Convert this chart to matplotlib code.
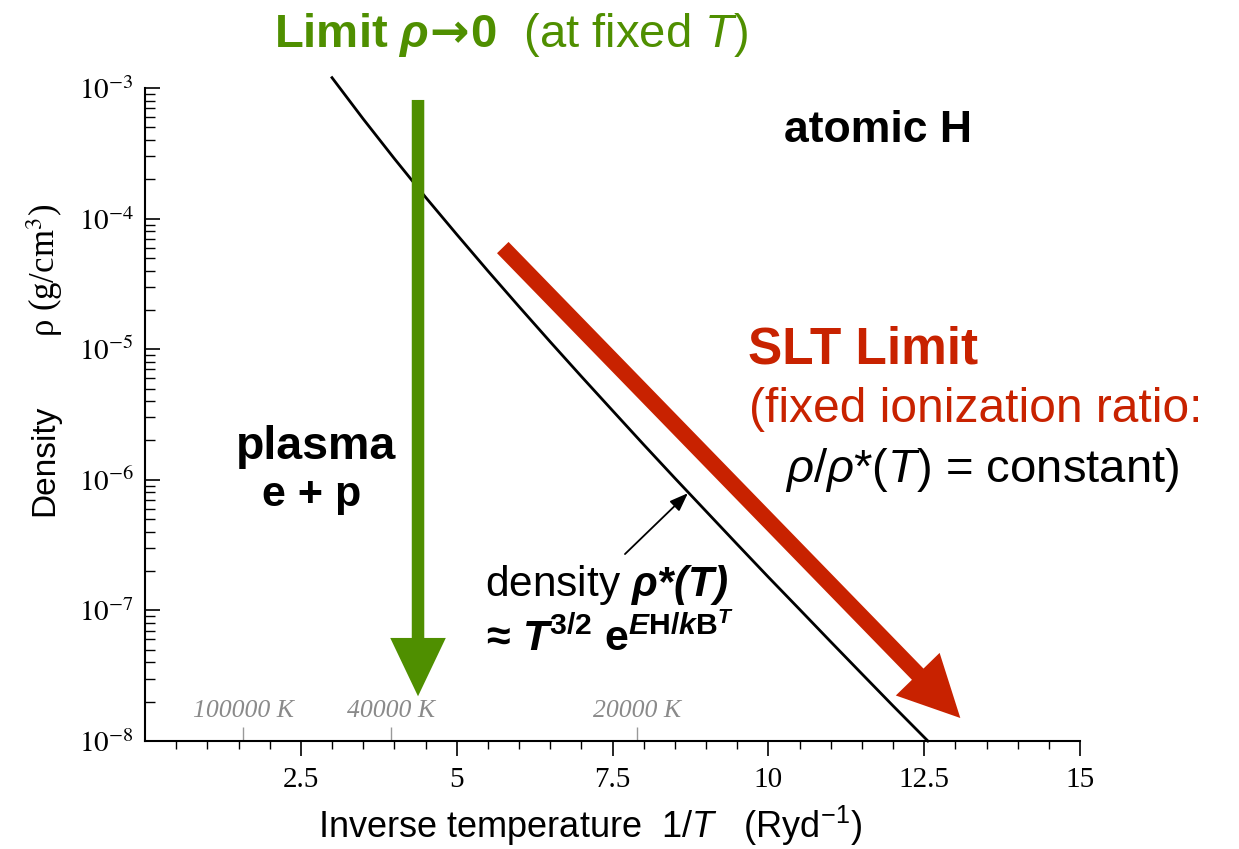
import matplotlib
matplotlib.use("Agg")
import matplotlib.pyplot as plt

# rho*(T) curve
inv_T = [3.0, 3.5, 4.0, 4.5, 5.0, 5.5, 6.0, 6.5, 7.0, 7.5, 8.0, 8.5, 9.0, 9.5,
         10.0, 10.5, 11.0, 11.5, 12.0, 12.56]
rho_star = [1.2e-3, 5.8e-4, 2.88e-4, 1.46e-4, 7.58e-5, 3.98e-5, 2.12e-5, 1.14e-5,
            6.19e-6, 3.39e-6, 1.86e-6, 1.03e-6, 5.75e-7, 3.21e-7, 1.8e-7, 1.02e-7,
            5.76e-8, 3.27e-8, 1.86e-8, 1.0e-8]

# arrows (start, tip) in data units
green_start = (4.38, 8.1e-4)
green_tip = (4.38, 2.2e-8)
red_start = (5.74, 6.0e-5)
red_tip = (13.08, 1.5e-8)
note_tip = (8.71, 7.9e-7)
note_start = (7.7, 2.7e-7)

xticks = [2.5, 5, 7.5, 10, 12.5, 15]
xtick_labels = ["2.5", "5", "7.5", "10", "12.5", "15"]
yticks = [1e-8, 1e-7, 1e-6, 1e-5, 1e-4, 1e-3]
ytick_labels = [r"$10^{-8}$", r"$10^{-7}$", r"$10^{-6}$", r"$10^{-5}$", r"$10^{-4}$", r"$10^{-3}$"]

temp_pos = [1.58, 3.95, 7.89]
temp_labels = ["100000 K", "40000 K", "20000 K"]

GREEN = "#4f8f00"
RED = "#c82200"
SANS = "Liberation Sans"

plt.rcParams["mathtext.fontset"] = "stix"
plt.rcParams["mathtext.rm"] = SANS
plt.rcParams["mathtext.it"] = SANS + ":italic"
plt.rcParams["mathtext.bf"] = SANS + ":bold"
plt.rcParams["mathtext.bfit"] = SANS + ":italic:bold"
plt.rcParams["mathtext.sf"] = "DejaVu Sans:bold"
plt.rcParams["mathtext.fallback"] = "stix"

W, H = 1239, 849
fig = plt.figure(figsize=(W / 100, H / 100), dpi=100)
ax = fig.add_axes([145 / W, 1 - 741 / H, (1080 - 145) / W, (741 - 88) / H])


def ftext(x, y, s, **kw):
    # place text at pixel position (from the top left)
    kw.setdefault("family", SANS)
    kw.setdefault("ha", "center")
    kw.setdefault("va", "center")
    kw.setdefault("math_fontfamily", "custom")
    return fig.text(x / W, 1 - y / H, s, **kw)


ax.set_yscale("log")
ax.set_xlim(0, 15)
ax.set_ylim(1e-8, 1e-3)

ax.plot(inv_T, rho_star, color="black", lw=2.0, clip_on=False, zorder=3)

ax.annotate("", xy=green_tip, xytext=green_start,
            arrowprops=dict(arrowstyle="simple,head_length=2.1,head_width=2.0,tail_width=0.45",
                            color=GREEN, mutation_scale=20, shrinkA=0, shrinkB=0, lw=0))
ax.annotate("", xy=red_tip, xytext=red_start,
            arrowprops=dict(arrowstyle="simple,head_length=2.2,head_width=2.2,tail_width=0.58",
                            color=RED, mutation_scale=20, shrinkA=0, shrinkB=0, lw=0))
ax.annotate("", xy=note_tip, xytext=note_start,
            arrowprops=dict(arrowstyle="-|>,head_length=0.8,head_width=0.3", color="black",
                            lw=1.3, mutation_scale=14, shrinkA=0, shrinkB=0))

# temperature marks along the bottom
xt = ax.get_xaxis_transform()
ax.vlines(temp_pos, 0, 0.022, transform=xt, color="#999999", lw=1.0)
for p, lab in zip(temp_pos, temp_labels):
    ax.text(p, 0.046, lab, transform=xt, ha="center", va="center", color="#8a8a8a",
            family="Liberation Serif", style="italic", fontsize=18.5)

ax.set_xticks(xticks)
ax.set_xticklabels(xtick_labels, family="Liberation Serif", fontsize=21)
ax.set_xticks([i * 0.5 for i in range(1, 30)], minor=True)
ax.set_yticks(yticks)
ax.set_yticklabels(ytick_labels, fontsize=21)
ax.tick_params(axis="x", which="major", direction="out", length=11, width=1.2, pad=8)
ax.tick_params(axis="x", which="minor", direction="out", length=6, width=1.0)
ax.tick_params(axis="y", which="major", direction="in", length=11, width=1.2, pad=8)
ax.tick_params(axis="y", which="minor", direction="in", length=7, width=1.0)
for s in ["top", "right"]:
    ax.spines[s].set_visible(False)
for s in ["left", "bottom"]:
    ax.spines[s].set_linewidth(1.5)

# labels and notes
ftext(590, 826, r"Inverse temperature  1/$\mathit{T}$   (Ryd$^{-1}$)", fontsize=26)
ftext(45, 460, "Density", fontsize=24, rotation=90)
ftext(45, 270, r"ρ (g/cm$^3$)", family="Liberation Serif", math_fontfamily="stix",
      fontsize=25, rotation=90)

ftext(511, 35,
      r"$\mathbf{Limit}\ \mathbfit{\rho}\!\mathsf{\rightarrow}\!\mathbf{0}$  (at fixed $\mathit{T}$)",
      color=GREEN, fontsize=34)
ftext(878, 130, "atomic H", fontsize=32, weight="bold")
ftext(748, 350, "SLT Limit", fontsize=37, weight="bold", color=RED, ha="left")
ftext(749, 410, "(fixed ionization ratio:", fontsize=34.5, color=RED, ha="left")
ftext(982, 470, r"$\mathit{\rho}$/$\mathit{\rho}$*($\mathit{T}$) = constant)", fontsize=34)
ftext(316, 447, "plasma", fontsize=33.5, weight="bold")
ftext(312, 495, "e + p", fontsize=31, weight="bold")
ftext(607, 585, r"density $\mathbfit{\rho}\mathbfit{*(T)}$", fontsize=30.5)
ftext(607, 637,
      r"$\mathbf{\approx}\,\mathbfit{T}^{\mathbf{3/2}}\ \mathbf{e}^{\mathbfit{E}\mathbf{H/}\mathbfit{k}\mathbf{B}^{\mathbfit{T}}}$",
      fontsize=31)

fig.savefig("out.png", dpi=100)
